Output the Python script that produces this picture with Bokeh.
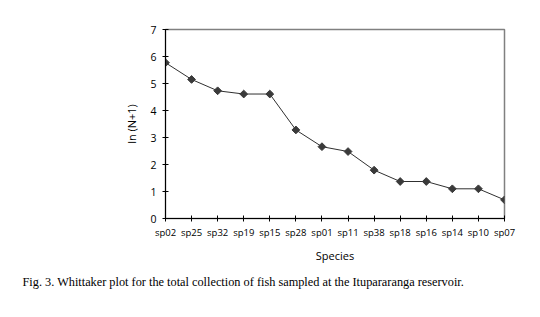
import math
from bokeh.plotting import figure
from bokeh.embed import file_html
from bokeh.resources import INLINE
from bokeh.models import Range1d, FixedTicker, Title
from bokeh.core.properties import value

species = ["sp02", "sp25", "sp32", "sp19", "sp15", "sp28", "sp01",
           "sp11", "sp38", "sp18", "sp16", "sp14", "sp10", "sp07"]
ln_n1 = [5.77, 5.15, 4.73, 4.61, 4.61, 3.28, 2.66,
         2.48, 1.79, 1.37, 1.37, 1.10, 1.10, 0.69]
y_ticks = [0, 1, 2, 3, 4, 5, 6, 7]
caption = "Fig. 3. Whittaker plot for the total collection of fish sampled at the Itupararanga reservoir."

xs = list(range(len(species)))

p = figure(width=524, height=295, output_backend="svg", toolbar_location=None,
           x_range=Range1d(0, len(species) - 1), y_range=Range1d(0, 7),
           min_border_left=165, min_border_right=20, min_border_top=29,
           min_border_bottom=10)
p.grid.visible = False
p.outline_line_color = "#808080"
p.outline_line_width = 1.5
p.background_fill_color = "white"
p.border_fill_color = "white"

p.line(xs, ln_n1, line_color="#303030", line_width=1)
p.scatter(xs, ln_n1, marker="square", angle=math.pi / 4, size=5.5,
          fill_color="#3a3a3a", line_color="#3a3a3a")

font = "Open Sans"
p.xaxis.ticker = FixedTicker(ticks=xs)
p.xaxis.major_label_overrides = {i: s for i, s in enumerate(species)}
p.xaxis.axis_label = "Species"
p.yaxis.ticker = FixedTicker(ticks=y_ticks)
p.yaxis.axis_label = "ln (N+1)"
for ax in (p.xaxis, p.yaxis):
    ax.axis_line_color = "black"
    ax.axis_line_width = 1
    ax.major_tick_line_color = "black"
    ax.major_tick_in = 3
    ax.major_tick_out = 3
    ax.minor_tick_line_color = None
    ax.major_label_text_font = font
    ax.major_label_text_font_size = "9.5px"
    ax.major_label_text_color = "black"
    ax.axis_label_text_font = font
    ax.axis_label_text_font_size = "11px"
    ax.axis_label_text_font_style = "normal"
    ax.axis_label_text_color = "black"
p.yaxis.major_label_text_font_size = "10.5px"
p.xaxis.major_label_standoff = 4
p.xaxis.axis_label_standoff = 6
p.yaxis.major_label_standoff = 6
p.yaxis.axis_label_standoff = 8

p.add_layout(Title(text=caption, align="left", offset=-143,
                   text_font="Liberation Serif", text_font_size="12.3px",
                   text_font_style="normal", text_color="black", standoff=14), "below")

open("out.html", "w").write(file_html(p, INLINE))
